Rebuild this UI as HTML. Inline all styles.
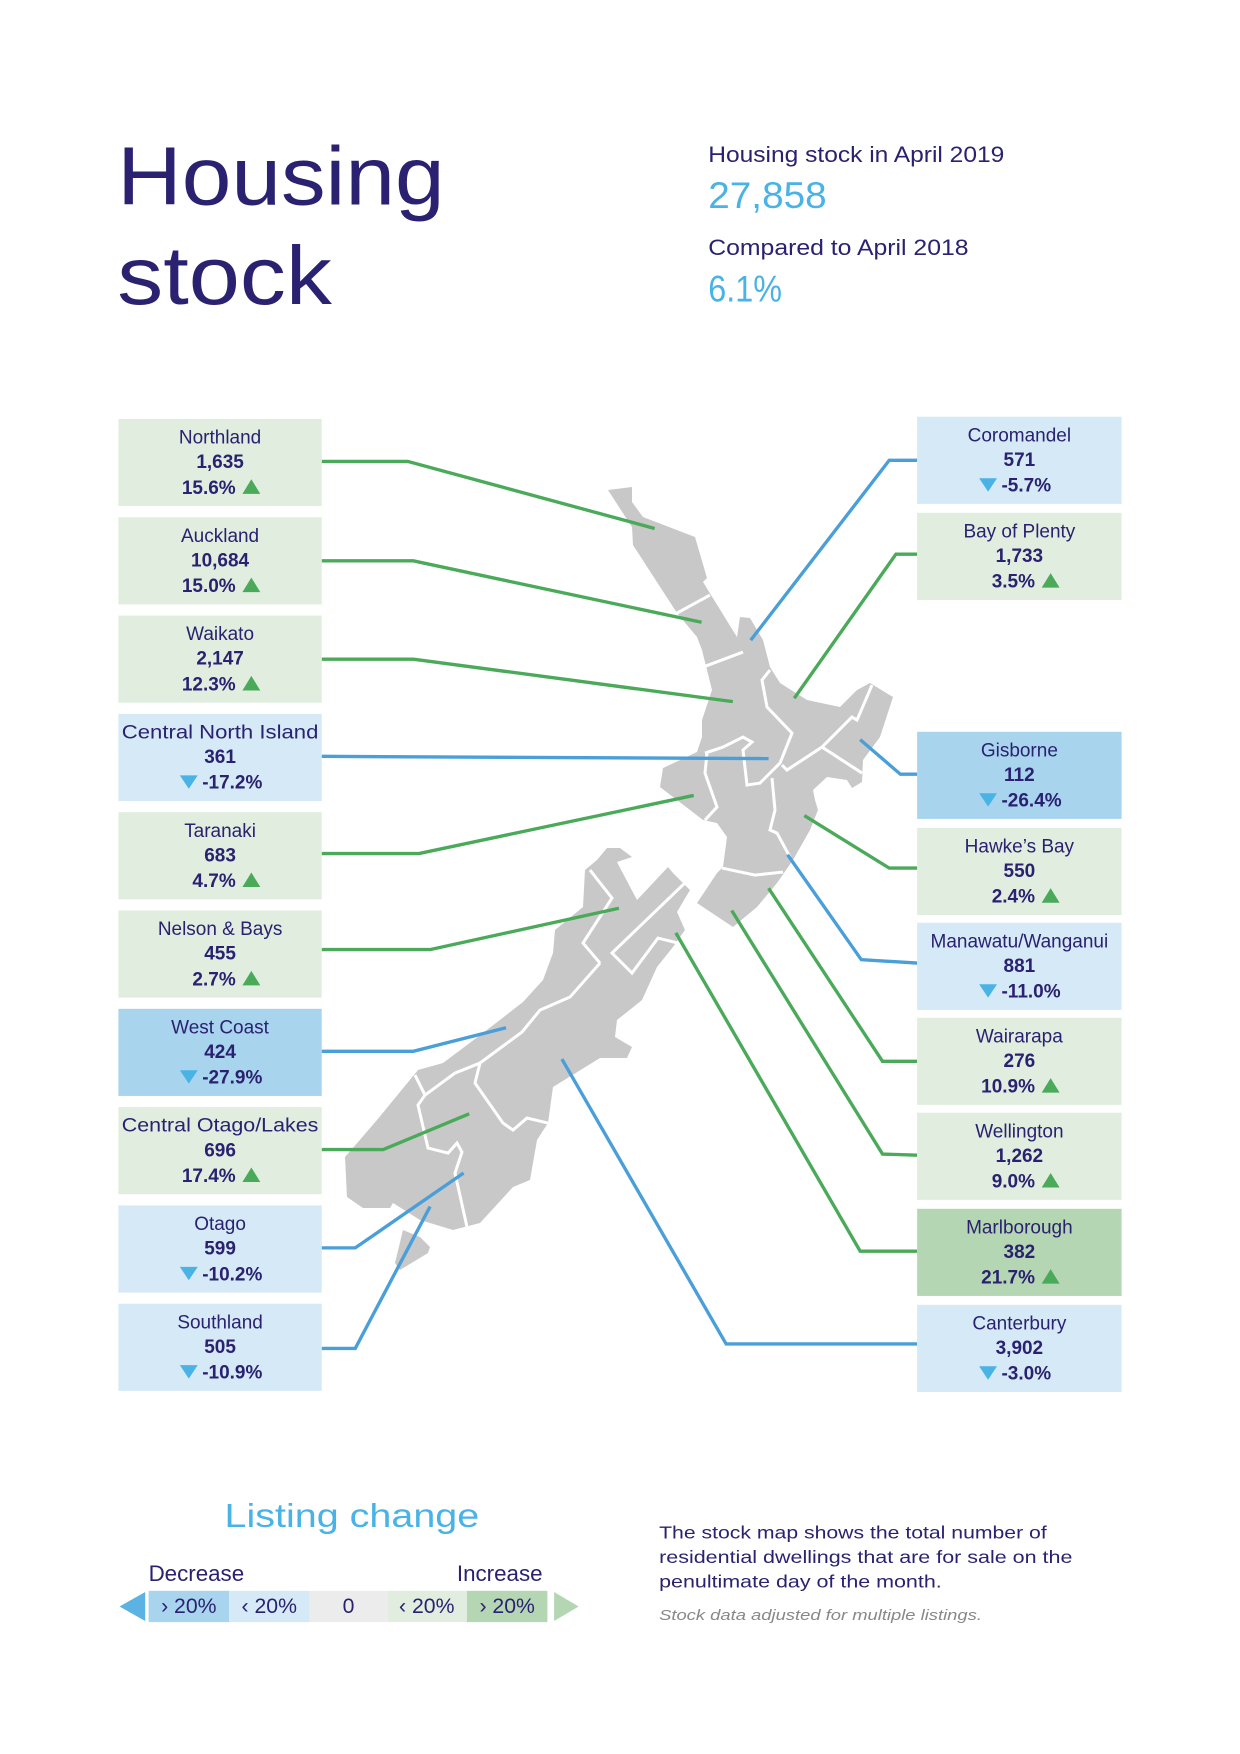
<!DOCTYPE html>
<html><head><meta charset="utf-8"><style>
html,body{margin:0;padding:0;background:#fff;}
svg{display:block;font-family:"Liberation Sans",sans-serif;}
</style></head><body>
<svg id="chart" width="1240" height="1754" viewBox="0 0 1110 1570" xmlns="http://www.w3.org/2000/svg">
<rect width="1110" height="1570" fill="#fff"/>
<g fill="#2a2270" font-size="74">
<text x="105" y="183" textLength="293" lengthAdjust="spacingAndGlyphs">Housing</text>
<text x="105" y="272" textLength="192" lengthAdjust="spacingAndGlyphs">stock</text>
</g>
<g>
<text x="634" y="145" font-size="20" fill="#2a2270" textLength="265" lengthAdjust="spacingAndGlyphs">Housing stock in April 2019</text>
<text x="634" y="186" font-size="33" fill="#4ab3e6" textLength="106" lengthAdjust="spacingAndGlyphs">27,858</text>
<text x="634" y="228" font-size="20" fill="#2a2270" textLength="233" lengthAdjust="spacingAndGlyphs">Compared to April 2018</text>
<text x="634" y="270" font-size="33" fill="#4ab3e6" textLength="66" lengthAdjust="spacingAndGlyphs">6.1%</text>
</g>
<g transform="scale(0.89516)">
<polygon fill="#c8c8c8" points="608,490 632,487 632,502 643,517 695,537 707,578 703,582 737,637 740,617 750,618 763,640 770,667 780,683 807,700 840,707 857,690 870,683 893,697 880,737 863,760 862,782 852,788 847,780 827,777 813,790 815,800 818,810 810,830 793,860 777,883 757,907 733,927 697,903 717,873 723,867 727,837 717,823 703,820 690,810 660,787 663,768 697,752 702,737 702,720 712,690 702,650 697,637 677,613 633,545 632,527"/>
<polygon fill="#c8c8c8" points="607,848 620,848 632,857 617,862 637,900 668,867 673,873 690,890 677,912 685,930 673,947 657,967 642,1000 617,1020 615,1037 632,1047 627,1058 600,1058 553,1087 548,1123 537,1140 530,1180 513,1187 480,1223 453,1230 420,1220 393,1203 390,1208 363,1208 347,1197 345,1157 377,1120 418,1070 443,1063 483,1033 523,1002 543,980 553,953 555,930 583,907 585,870 597,860"/>
<polygon fill="#c8c8c8" points="403,1230 420,1237 430,1247 428,1253 400,1270 395,1263"/>
<g fill="none" stroke="#fff" stroke-width="3">
<polyline points="677,613 710,595"/>
<polyline points="703,667 743,652"/>
<polyline points="770,670 762,680 767,707 792,733 780,763 760,783 747,785 743,750 752,742 743,737 723,747 705,753"/>
<polyline points="707,753 705,773 717,807 705,820"/>
<polyline points="782,765 787,770 822,747 852,717 857,720 872,685"/>
<polyline points="822,747 862,773"/>
<polyline points="772,778 775,810 770,830 777,833 790,857"/>
<polyline points="722,868 755,875 783,872"/>
<polyline points="590,870 612,898 583,943 600,963"/>
<polyline points="690,878 612,953 632,973 658,938 678,943"/>
<polyline points="600,963 570,997 540,1010 522,1032 480,1063 475,1083 503,1123 513,1130 527,1118 548,1123"/>
<polyline points="415,1075 425,1095 455,1073 480,1063"/>
<polyline points="425,1095 418,1105 428,1148 448,1153 457,1143 462,1152 455,1173 467,1227"/>
</g>
</g>
<g id="connectors"></g>
<g id="boxes"></g>
<g>
<text x="201" y="1367" font-size="30" fill="#4ab3e6" textLength="228" lengthAdjust="spacingAndGlyphs">Listing change</text>
<text x="133" y="1415" font-size="20" fill="#2a2270">Decrease</text>
<text x="409" y="1415" font-size="20" fill="#2a2270">Increase</text>
<polygon points="107,1438 130,1425 130,1451" fill="#5ab3e3"/>
<polygon points="496,1425 518,1438 496,1451" fill="#b5d6b3"/>
<rect x="133" y="1424" width="72" height="28" fill="#a8d4ee"/>
<rect x="205" y="1424" width="72" height="28" fill="#d5e9f6"/>
<rect x="277" y="1424" width="70" height="28" fill="#ececec"/>
<rect x="347" y="1424" width="71" height="28" fill="#e0eddf"/>
<rect x="418" y="1424" width="72" height="28" fill="#b5d6b3"/>
<g font-size="19" fill="#2a2270" text-anchor="middle">
<text x="169" y="1444">› 20%</text><text x="241" y="1444">‹ 20%</text><text x="312" y="1444">0</text><text x="382" y="1444">‹ 20%</text><text x="454" y="1444">› 20%</text>
</g>
</g>
<g fill="#2a2270" font-size="15.5">
<text x="590" y="1377" textLength="347" lengthAdjust="spacingAndGlyphs">The stock map shows the total number of</text>
<text x="590" y="1399" textLength="370" lengthAdjust="spacingAndGlyphs">residential dwellings that are for sale on the</text>
<text x="590" y="1421" textLength="253" lengthAdjust="spacingAndGlyphs">penultimate day of the month.</text>
<text x="590" y="1450" font-size="13" font-style="italic" fill="#888" textLength="289" lengthAdjust="spacingAndGlyphs">Stock data adjusted for multiple listings.</text>
</g>
</svg>
<script>
const regions = ["Northland","Auckland","Waikato","Central North Island","Taranaki","Nelson & Bays","West Coast","Central Otago/Lakes","Otago","Southland","Coromandel","Bay of Plenty","Gisborne","Hawke\u2019s Bay","Manawatu/Wanganui","Wairarapa","Wellington","Marlborough","Canterbury"];
const stockValues = ["1,635","10,684","2,147","361","683","455","424","696","599","505","571","1,733","112","550","881","276","1,262","382","3,902"];
const changePct = [15.6,15.0,12.3,-17.2,4.7,2.7,-27.9,17.4,-10.2,-10.9,-5.7,3.5,-26.4,2.4,-11.0,10.9,9.0,21.7,-3.0];
// layout (not data)
const boxTops = [375,463,551,639,727,815,903,991,1079,1167,373,459,655,741,826,911,996,1082,1168];
const paths = [
 [[288,413],[365,413],[586,473]],[[288,502],[370,502],[628,557]],[[288,590],[370,590],[656,628]],[[288,677],[688,679]],
 [[288,764],[375,764],[621,712]],[[288,850],[385,850],[554,813]],[[288,941],[370,941],[453,920]],[[288,1029],[343,1029],[420,997]],
 [[288,1117],[318,1117],[415,1050]],[[288,1207],[318,1207],[385,1080]],
 [[821,412],[796,412],[672,573]],[[821,496],[802,496],[711,625]],[[821,693],[806,693],[770,662]],[[821,777],[796,777],[720,730]],
 [[821,862],[771,859],[705,765]],[[821,950],[790,950],[688,795]],[[821,1034],[790,1033],[655,815]],[[821,1120],[770,1120],[605,835]],
 [[821,1203],[650,1203],[503,948]]];
const NS="http://www.w3.org/2000/svg";
function fillFor(p){ if(p<=-20) return "#a8d4ee"; if(p<0) return "#d5e9f6"; if(p>=20) return "#b5d6b3"; return "#e0eddf"; }
const cg=document.getElementById('connectors'), bg=document.getElementById('boxes');
regions.forEach((name,i)=>{
  const p=changePct[i], left=i<10, x=left?106:821, w=left?182:183, cx=x+w/2, t=boxTops[i];
  const line=document.createElementNS(NS,'polyline');
  
  
  line.setAttribute('points',paths[i].map(q=>q.join(',')).join(' '));
  line.setAttribute('fill','none');line.setAttribute('stroke',p<0?'#4a9fd8':'#4aaa5a');line.setAttribute('stroke-width','3');
  cg.appendChild(line);
  const g=document.createElementNS(NS,'g');
  
  
  const r=document.createElementNS(NS,'rect');
  r.setAttribute('x',x);r.setAttribute('y',t);r.setAttribute('width',w);r.setAttribute('height',78);r.setAttribute('fill',fillFor(p));
  g.appendChild(r);
  const mk=(txt,y,bold,anchor,tx)=>{const e=document.createElementNS(NS,'text');e.setAttribute('x',tx);e.setAttribute('y',y);e.setAttribute('text-anchor',anchor);e.setAttribute('font-size','17');e.setAttribute('fill','#2a2270');if(bold)e.setAttribute('font-weight','bold');e.textContent=txt;g.appendChild(e);return e;};
  const nt=mk(name,t+22,false,'middle',cx);
  if(name.length>17){nt.setAttribute('textLength',w-6);nt.setAttribute('lengthAdjust','spacingAndGlyphs');}
  mk(stockValues[i],t+44,true,'middle',cx);
  const ps=p.toFixed(1)+'%';
  if(p>=0){
    mk(ps,t+67,true,'end',cx+14);
    const tr=document.createElementNS(NS,'polygon');
    const tx=cx+20;
    tr.setAttribute('points',`${tx},${t+67} ${tx+16},${t+67} ${tx+8},${t+54}`);tr.setAttribute('fill','#4aaa5a');
    g.appendChild(tr);
  } else {
    mk(ps,t+67,true,'start',cx-16);
    const tx=cx-36;
    const tr=document.createElementNS(NS,'polygon');
    tr.setAttribute('points',`${tx},${t+55} ${tx+16},${t+55} ${tx+8},${t+67}`);tr.setAttribute('fill','#4ab3e6');
    g.appendChild(tr);
  }
  bg.appendChild(g);
});
</script>
</body></html>
